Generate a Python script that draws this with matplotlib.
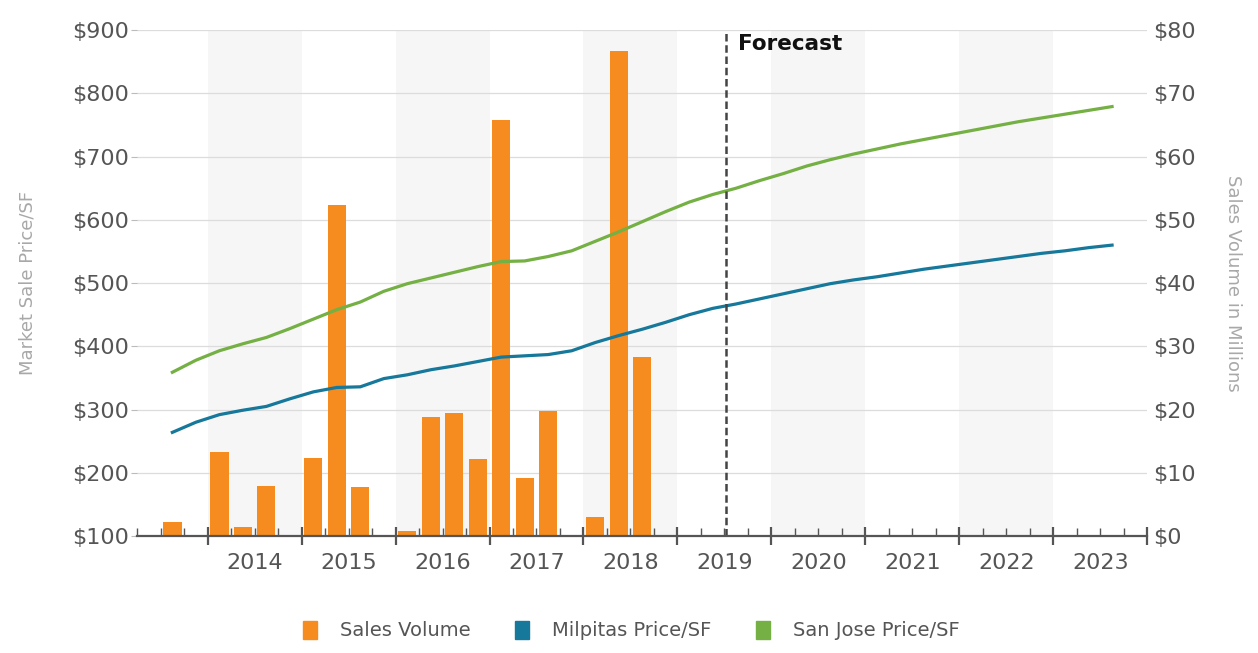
import matplotlib
matplotlib.use("Agg")
import matplotlib.pyplot as plt
from matplotlib.patches import Patch
from matplotlib.ticker import FuncFormatter, MultipleLocator
import pandas as pd

# quarterly data, 2013 Q3 .. 2023 Q3
quarters = pd.period_range("2013Q3", "2023Q3", freq="Q")

sales_volume = [2.2, 0, 13.3, 1.5, 7.9, 0, 12.3, 52.3, 7.7, 0,
                0.8, 18.8, 19.4, 12.2, 65.8, 9.2, 19.7, 0, 3.0, 76.7,
                28.3, 0, 0, 0, 0, 0, 0, 0, 0, 0,
                0, 0, 0, 0, 0, 0, 0, 0, 0, 0, 0]

milpitas = [264, 280, 292, 299, 305, 317, 328, 335, 336, 349,
            355, 363, 369, 376, 383, 385, 387, 393, 406, 417,
            427, 438, 450, 460, 467, 475, 483, 491, 499, 505,
            510, 516, 522, 527, 532, 537, 542, 547, 551, 556, 560]

san_jose = [359, 378, 393, 404, 414, 428, 443, 458, 470, 487,
            499, 508, 517, 526, 534, 535, 542, 551, 566, 581,
            597, 613, 628, 640, 650, 662, 673, 685, 695, 704,
            712, 720, 727, 734, 741, 748, 755, 761, 767, 773, 779]

years = list(range(2014, 2024))
forecast_start = 2019.52

c_orange = "#f68b1f"
c_blue = "#16789a"
c_green = "#74b043"
c_text = "#555555"
c_label = "#a8a8a8"

x = [p.year + (p.quarter - 1) / 4 + 0.125 for p in quarters]

fig = plt.figure(figsize=(12.58, 6.53), dpi=100)
ax = fig.add_axes([0.109, 0.179, 0.803, 0.775])
ax2 = ax.twinx()

# bars, grid and bands live on ax2; the price lines on ax sit above them
ax.set_zorder(ax2.get_zorder() + 1)
ax.patch.set_visible(False)

for y in years[::2]:
    ax2.axvspan(y, y + 1, color="#f6f6f6", zorder=0, lw=0)

ax2.bar(x, sales_volume, width=0.195, color=c_orange, zorder=2)
ax2.set_ylim(0, 80)
ax2.yaxis.set_major_locator(MultipleLocator(10))
ax2.yaxis.set_major_formatter(FuncFormatter(lambda v, p: "$%d" % v))
ax2.grid(axis="y", color="#dcdcdc", lw=0.9, zorder=1)
ax2.set_axisbelow(True)
ax2.set_ylabel("Sales Volume in Millions", color=c_label, fontsize=13, rotation=270)
ax2.yaxis.set_label_coords(1.094, 0.5)

ax.plot(x, milpitas, color=c_blue, lw=2.3)
ax.plot(x, san_jose, color=c_green, lw=2.3)
ax.set_ylim(100, 900)
ax.yaxis.set_major_locator(MultipleLocator(100))
ax.yaxis.set_major_formatter(FuncFormatter(lambda v, p: "$%d" % v))
ax.set_ylabel("Market Sale Price/SF", color=c_label, fontsize=13)
ax.yaxis.set_label_coords(-0.1, 0.5)

ax.axvline(forecast_start, color="#444444", lw=1.8, ls=(0, (3, 1.5)))
ax.text(forecast_start + 0.12, 878, "Forecast", fontsize=15.5, fontweight="bold",
        color="#111111", va="center", ha="left")

ax.set_xlim(2013.25, 2024.0)
ax.set_xticks(years + [2024])
ax.set_xticks([y + q / 4 for y in range(2013, 2024) for q in (1, 2, 3)
               if 2013.25 <= y + q / 4 <= 2024], minor=True)
ax.set_xticklabels([])
for yr in years:
    ax.text(yr + 0.5, -0.053, str(yr), transform=ax.get_xaxis_transform(),
            ha="center", va="center", fontsize=16, color=c_text)
ax.tick_params(axis="x", which="major", direction="inout", length=13,
               width=1.6, color="#555555")
ax.tick_params(axis="x", which="minor", direction="in", length=6,
               width=1.0, color="#555555")
ax2.tick_params(axis="x", which="both", length=0)

ax.tick_params(axis="y", labelsize=16, labelcolor=c_text, length=4, color="#bbbbbb", pad=2)
ax2.tick_params(axis="y", labelsize=16, labelcolor=c_text, length=0, pad=4)

for a in (ax, ax2):
    for s in ("top", "left", "right"):
        a.spines[s].set_visible(False)
ax.spines["bottom"].set_color("#555555")
ax.spines["bottom"].set_linewidth(1.6)
ax2.spines["bottom"].set_visible(False)

handles = [Patch(color=c_orange, label="Sales Volume"),
           Patch(color=c_blue, label="Milpitas Price/SF"),
           Patch(color=c_green, label="San Jose Price/SF")]
leg = fig.legend(handles=handles, loc="center", bbox_to_anchor=(0.502, 0.034),
                 ncol=3, frameon=False, fontsize=14, handlelength=0.7,
                 handleheight=1.0, columnspacing=2.3, handletextpad=1.2)
for t in leg.get_texts():
    t.set_color(c_text)

fig.savefig("out.png", dpi=100)
